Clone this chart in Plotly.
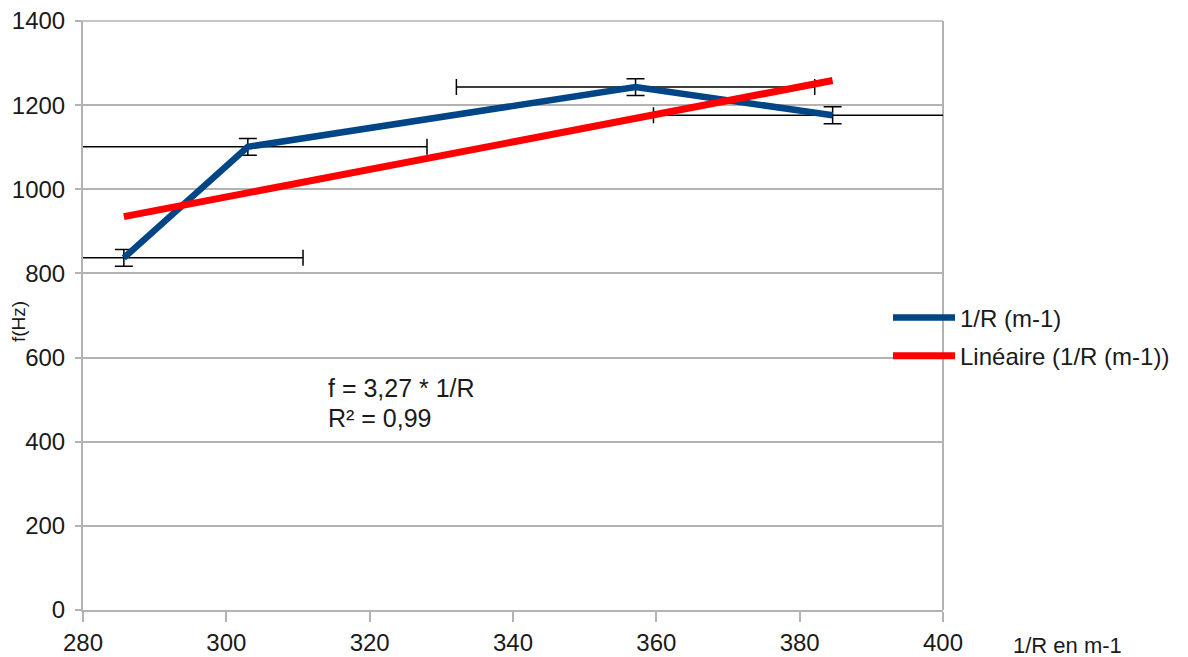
import numpy as np
import plotly.graph_objects as go

# Data
inv_r = [285.7, 303.0, 357.1, 384.6]          # 1/R in m-1
freq = [837, 1101, 1243, 1176]                 # f in Hz
inv_r_err = [25, 25, 25, 25]
freq_err = [20, 20, 20, 20]

x_ticks = [280, 300, 320, 340, 360, 380, 400]
y_ticks = [0, 200, 400, 600, 800, 1000, 1200, 1400]

series_name = "1/R (m-1)"
trend_name = "Linéaire (1/R (m-1))"
eq_text = "f = 3,27 * 1/R"
r2_text = "R² = 0,99"
x_title = "1/R en m-1"
y_title = "f(Hz)"

# Linear regression through origin (trend line)
xa = np.array(inv_r)
ya = np.array(freq)
slope = float((xa * ya).sum() / (xa * xa).sum())
trend_x = [min(inv_r), max(inv_r)]
trend_y = [slope * v for v in trend_x]

FONT = "Liberation Sans, Arial, sans-serif"
GRID = "#b3b3b3"
TXT = "#1a1a1a"

# page body has an 8px offset; plot area targeted at x 83..943, y 21..610 on screen
OFF = 8
W, H = 1188 - OFF, 657 - OFF
L, T = 83 - OFF, 21 - OFF
R = W - (943 - OFF)
B = H - (610 - OFF)
PW, PH = 860, 589

fig = go.Figure()
fig.add_trace(go.Scatter(
    x=inv_r, y=freq, mode="lines", name=series_name, legendgroup="a",
    line=dict(color="#004586", width=6.5),
    error_x=dict(type="data", array=inv_r_err, visible=True, color="black", thickness=1.5, width=8),
    error_y=dict(type="data", array=freq_err, visible=True, color="black", thickness=1.5, width=9),
))
fig.add_trace(go.Scatter(
    x=trend_x, y=trend_y, mode="lines", name=trend_name, legendgroup="b",
    line=dict(color="#ff0000", width=7),
))

fig.update_layout(
    width=W, height=H,
    margin=dict(l=L, r=R, t=T, b=B, pad=0, autoexpand=False),
    paper_bgcolor="white", plot_bgcolor="white",
    font=dict(family=FONT, size=24, color=TXT),
    showlegend=True,
    legend=dict(
        x=(888 - 83) / PW, xanchor="left",
        y=(610 - 337) / PH, yanchor="middle",
        bgcolor="rgba(0,0,0,0)",
        font=dict(family=FONT, size=24, color=TXT),
        itemwidth=62, traceorder="grouped", tracegroupgap=4,
    ),
    xaxis=dict(
        range=[280, 400], tickmode="array", tickvals=x_ticks, automargin=False,
        showgrid=False, zeroline=False,
        showline=True, linecolor=GRID, linewidth=2,
        ticks="outside", ticklen=10, tickcolor=GRID, tickwidth=1.5,
        tickfont=dict(family=FONT, size=24, color=TXT),
        ticklabeloverflow="allow",
    ),
    yaxis=dict(
        range=[0, 1400.01], tickmode="array", tickvals=y_ticks, automargin=False,
        showgrid=True, gridcolor=GRID, gridwidth=1.5, zeroline=False,
        showline=True, linecolor=GRID, linewidth=2,
        ticks="outside", ticklen=6, tickcolor=GRID, tickwidth=1.5,
        tickfont=dict(family=FONT, size=24, color=TXT),
        ticklabelstandoff=5, ticklabeloverflow="allow",
    ),
    shapes=[
        dict(type="line", xref="paper", yref="paper",
             x0=1, x1=1, y0=0, y1=1, line=dict(color=GRID, width=2), layer="below"),
        dict(type="line", xref="paper", yref="paper",
             x0=-6 / PW, x1=1, y0=1, y1=1, line=dict(color=GRID, width=1.5), layer="below"),
    ],
    annotations=[
        dict(text=eq_text, x=313.9, y=527.7, xref="x", yref="y", xanchor="left", yanchor="middle",
             showarrow=False, font=dict(family=FONT, size=25, color=TXT)),
        dict(text=r2_text, x=313.9, y=456.4, xref="x", yref="y", xanchor="left", yanchor="middle",
             showarrow=False, font=dict(family=FONT, size=25, color=TXT)),
        dict(text=x_title, x=(1011 - 83) / PW, y=(610 - 645) / PH, xref="paper", yref="paper",
             xanchor="left", yanchor="middle", showarrow=False,
             font=dict(family=FONT, size=22, color=TXT)),
        dict(text=y_title, x=(18 - 83) / PW, y=(610 - 322) / PH, xref="paper", yref="paper",
             xanchor="center", yanchor="middle", textangle=-90, showarrow=False,
             font=dict(family=FONT, size=19, color=TXT)),
    ],
)

fig.write_html("out.html")
